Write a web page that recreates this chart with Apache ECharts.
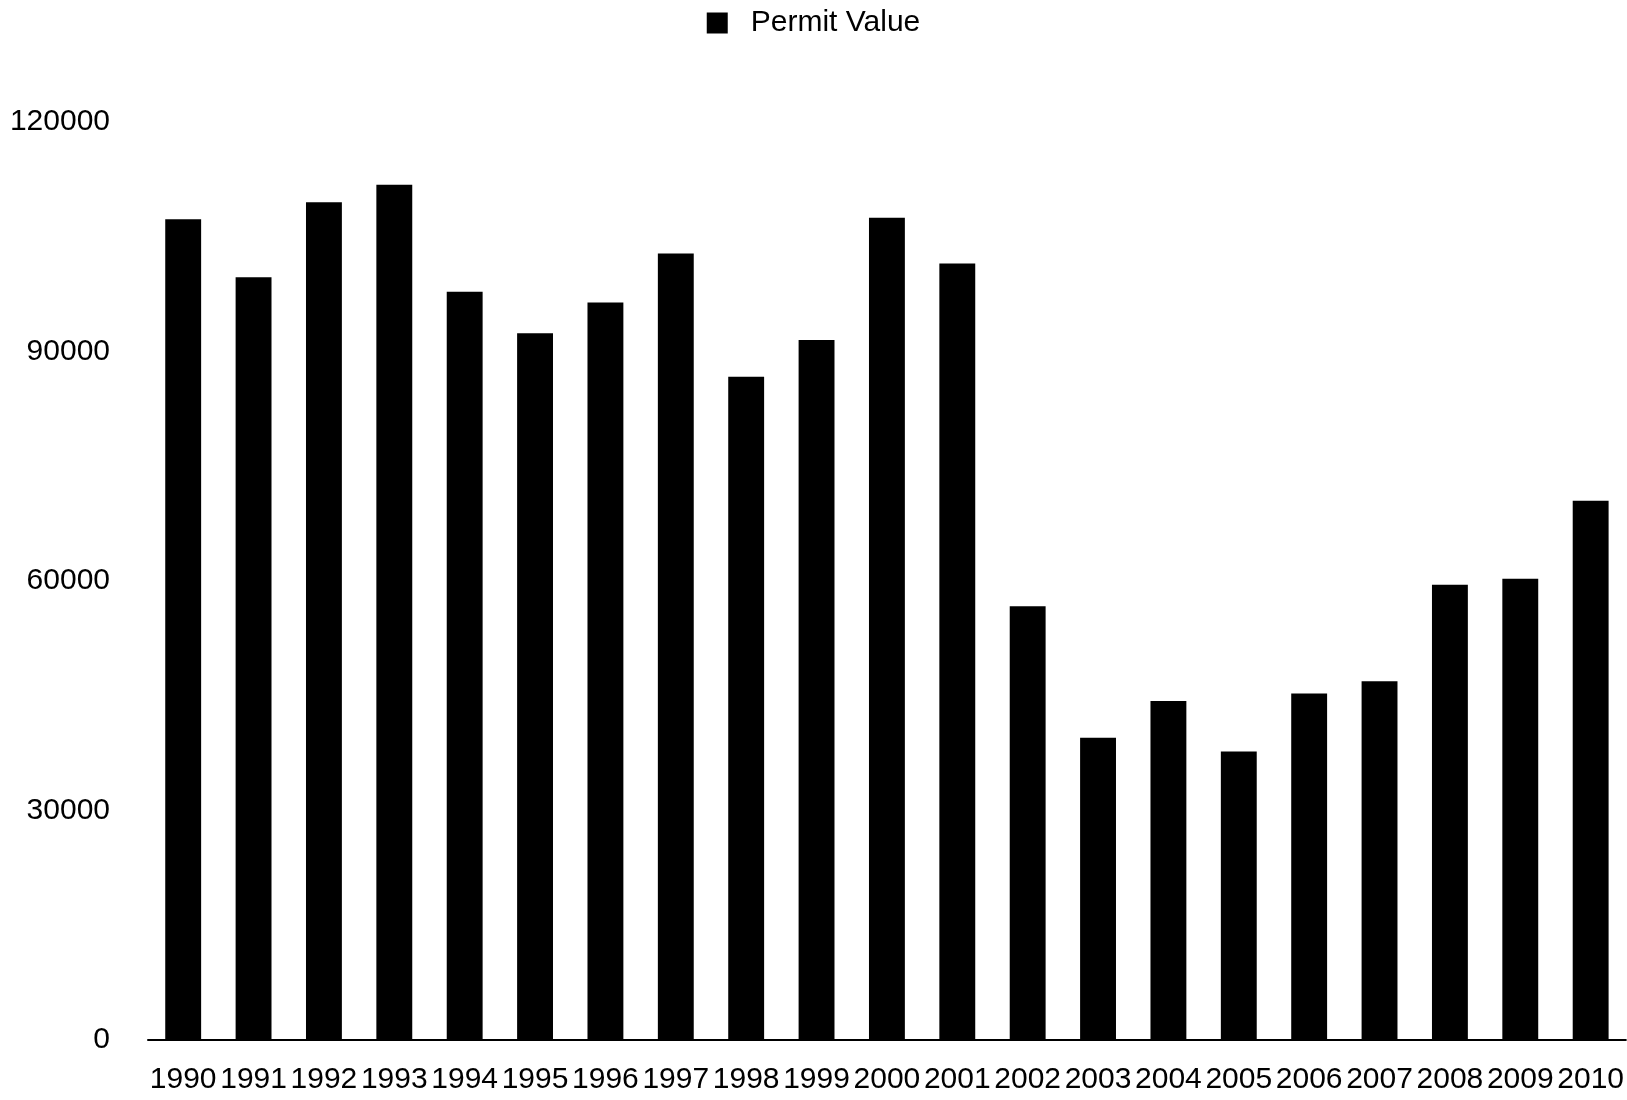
<!DOCTYPE html>
<html>
<head>
<meta charset="utf-8">
<script src="https://cdn.jsdelivr.net/npm/echarts@6/dist/echarts.min.js"></script>
<style>html,body{margin:0;padding:0;background:#fff}#c{width:1627px;height:1100px}</style>
</head>
<body>
<div id="c"></div>
<script>
const categories = ['1990','1991','1992','1993','1994','1995','1996','1997','1998','1999','2000','2001','2002','2003','2004','2005','2006','2007','2008','2009','2010'];
const permitValue = [107300, 99700, 109500, 111800, 97800, 92400, 96400, 102800, 86700, 91500, 107500, 101500, 56700, 39500, 44300, 37700, 45300, 46900, 59500, 60300, 70500];
const yTicks = { min: 0, max: 120000, interval: 30000 };

const chart = echarts.init(document.getElementById('c'), null, { renderer: 'canvas' });
const font = 'Liberation Sans, Arial, Helvetica, sans-serif';
chart.setOption({
  animation: false,
  backgroundColor: '#fff',
  textStyle: { fontFamily: font },
  legend: {
    data: ['Permit Value'],
    top: 3,
    left: 'center',
    icon: 'rect',
    itemWidth: 21,
    itemHeight: 21,
    textStyle: { fontSize: 30, color: '#000', fontFamily: font, padding: [0, 0, 0, 18] }
  },
  grid: { left: 148, right: 0, top: 122, bottom: 60, containLabel: false },
  xAxis: {
    type: 'category',
    data: categories,
    axisLine: { show: true, lineStyle: { color: '#000', width: 2 } },
    axisTick: { show: false },
    axisLabel: { interval: 0, color: '#000', fontSize: 30, fontFamily: font, margin: 25 }
  },
  yAxis: {
    type: 'value',
    min: yTicks.min, max: yTicks.max, interval: yTicks.interval,
    splitLine: { show: false },
    axisLine: { show: false },
    axisTick: { show: false },
    axisLabel: { color: '#000', fontSize: 30, fontFamily: font, margin: 38, formatter: v => String(v) }
  },
  series: [{
    name: 'Permit Value',
    type: 'bar',
    data: permitValue,
    barWidth: '51%',
    itemStyle: { color: '#000' }
  }]
});
</script>
</body>
</html>
